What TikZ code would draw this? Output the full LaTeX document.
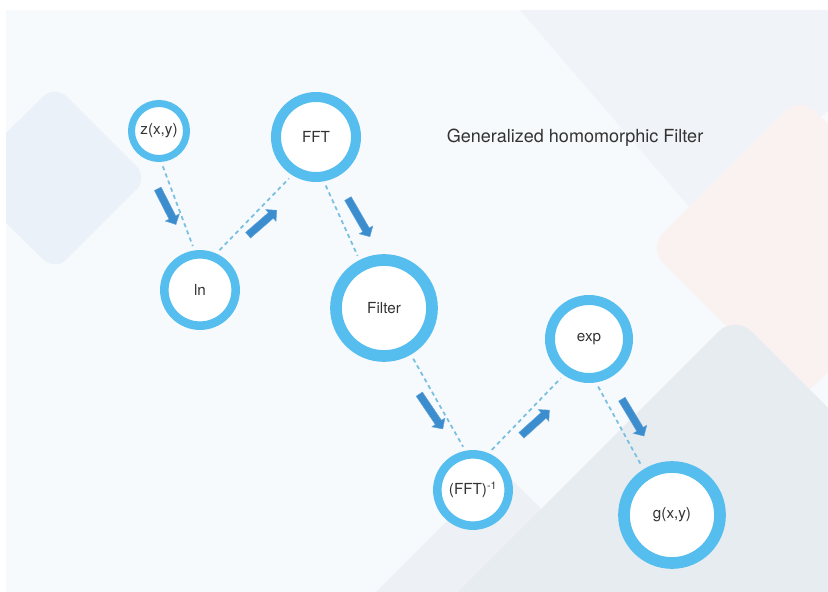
\documentclass[tikz,border=0pt]{standalone}
\usepackage{fontspec}
\setmainfont{TeX Gyre Heros}
\usepackage{tikz}
\usetikzlibrary{shapes.arrows}

\definecolor{ringblue}{HTML}{56BEEE}
\definecolor{dashblue}{HTML}{79BFE0}
\definecolor{arrowblue}{HTML}{3C8DCE}
\definecolor{paper}{HTML}{F7FAFC}
\definecolor{leftshape}{HTML}{EAF1F8}
\definecolor{topshape}{HTML}{F0F3F7}
\definecolor{pinkshape}{HTML}{FAF1F1}
\definecolor{grayshape}{HTML}{E7ECF1}
\definecolor{midshape}{HTML}{EDF1F5}

\begin{document}
\begin{tikzpicture}[x=0.03cm, y=-0.03cm,
		node_style/.style={circle,draw=ringblue,fill=white,text=black!80,font=\fontsize{13}{15}\selectfont},
		edge_style/.style={draw=dashblue,line width=1.5pt,dash pattern=on 3.5pt off 3pt,shorten >=4pt,shorten <=4pt},
		arrow_style/.style={single arrow,fill=arrowblue,draw=arrowblue!80!white,inner sep=0pt,inner ysep=3pt,single arrow head extend=3.5pt},
		title_style/.style={text=black!80,font=\fontsize{15.4}{18}\selectfont}]
		
		% background
		\useasboundingbox (0,0) rectangle (828,592);
		\fill[white] (0,0) rectangle (828,592);
		\fill[paper] (6,10) rectangle (828,592);
		\begin{scope}
		\clip (6,10) rectangle (828,592);
		\fill[leftshape, rounded corners=14pt] (148,178) -- (55,85) -- (-40,178) -- (55,271) -- cycle;
		\fill[topshape] (520,10) -- (828,10) -- (828,110) -- (705,225) -- cycle;
		\fill[pinkshape, rounded corners=18pt] (648,248) -- (800,96) -- (952,248) -- (800,400) -- cycle;
		\fill[midshape, rounded corners=14pt] (500,468) -- (640,608) -- (500,748) -- (360,608) -- cycle;
		\fill[grayshape, rounded corners=20pt] (735,315) -- (1035,615) -- (735,915) -- (435,615) -- cycle;
		\end{scope}
		
		\node[node_style, line width=6pt, minimum size=1.65cm] (zxy) at (159,131)  {z(x,y)};
		\node[node_style, line width=8.5pt, minimum size=2.4cm] (fft) at (316,137)  {FFT};
		\node[node_style, line width=7.3pt, minimum size=2.14cm] (ln) at (200,290)  {ln};
		\node[node_style, line width=10pt, minimum size=2.88cm] (filter) at (384,308)  {Filter};
		\node[node_style, line width=8.5pt, minimum size=2.34cm] (exp) at (589,339)  {exp};
		\node[node_style, line width=7.3pt, minimum size=2.14cm] (ifft) at (473,490)  {(FFT)\textsuperscript{-1}};
		\node[node_style, line width=10pt, minimum size=2.88cm] (gxy) at (672,515)  {g(x,y)};
		
		\node[title_style] (title) at (575,138)  {Generalized homomorphic Filter};
		
		\draw[edge_style]  (zxy.-86) -- (ln.98);
		\draw[edge_style]  (ln.66) -- (fft.-122);
		\draw[edge_style]  (fft.-80) -- (filter.117);
		\draw[edge_style]  (filter.-60) -- (ifft.101);
		\draw[edge_style]  (ifft.67) -- (exp.-125);
		\draw[edge_style]  (exp.-81) -- (gxy.122);
		
		\node[arrow_style, minimum height=1.2cm, rotate=-63] (a1) at (166,205)  {};
		\node[arrow_style, minimum height=1.14cm, rotate=41] (a2) at (261,224)  {};
		\node[arrow_style, minimum height=1.32cm, rotate=-60] (a3) at (358,216)  {};
		\node[arrow_style, minimum height=1.26cm, rotate=-56] (a4) at (430,410)  {};
		\node[arrow_style, minimum height=1.13cm, rotate=42] (a5) at (534,424)  {};
		\node[arrow_style, minimum height=1.29cm, rotate=-59] (a6) at (632,416)  {};
		
		\end{tikzpicture}
\end{document}
